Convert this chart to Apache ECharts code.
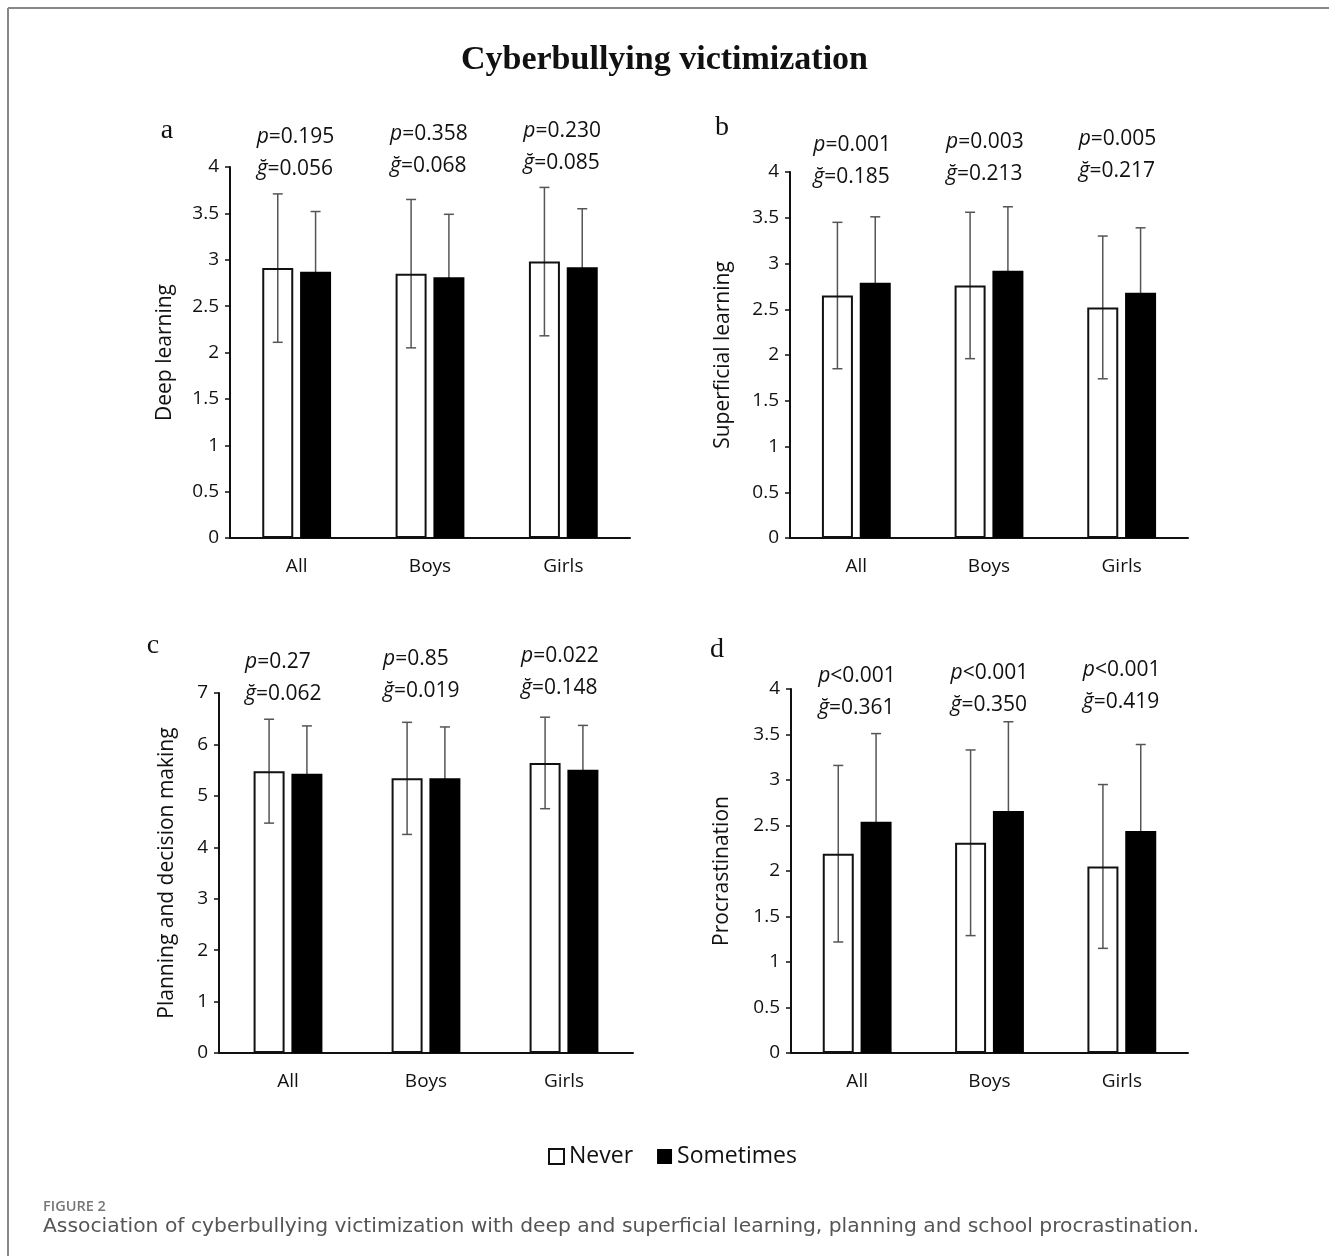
<!DOCTYPE html>
<html>
<head>
<meta charset="utf-8">
<script src="https://cdn.jsdelivr.net/npm/echarts@6/dist/echarts.min.js"></script>
<style>
  html, body { margin: 0; padding: 0; background: #fff; }
  #chart { width: 1329px; height: 1256px; }
</style>
</head>
<body>
<div id="chart"></div>
<script>
// categories
const groups = ["All", "Boys", "Girls"];

// a - deep learning
const deepNever = [2.91, 2.85, 2.98];
const deepNeverSd = [0.80, 0.80, 0.80];
const deepSometimes = [2.87, 2.81, 2.92];
const deepSometimesSd = [0.65, 0.68, 0.63];
const deepP = ["=0.195", "=0.358", "=0.230"];
const deepG = ["0.056", "0.068", "0.085"];

// b - superficial learning
const superNever = [2.65, 2.76, 2.52];
const superNeverSd = [0.80, 0.80, 0.78];
const superSometimes = [2.79, 2.92, 2.68];
const superSometimesSd = [0.72, 0.70, 0.71];
const superP = ["=0.001", "=0.003", "=0.005"];
const superG = ["0.185", "0.213", "0.217"];

// c - planning and decision making
const planNever = [5.48, 5.34, 5.64];
const planNeverSd = [1.01, 1.09, 0.89];
const planSometimes = [5.43, 5.34, 5.51];
const planSometimesSd = [0.93, 1.00, 0.86];
const planP = ["=0.27", "=0.85", "=0.022"];
const planG = ["0.062", "0.019", "0.148"];

// d - procrastination
const procNever = [2.19, 2.31, 2.05];
const procNeverSd = [0.97, 1.02, 0.90];
const procSometimes = [2.54, 2.66, 2.44];
const procSometimesSd = [0.97, 0.98, 0.95];
const procP = ["<0.001", "<0.001", "<0.001"];
const procG = ["0.361", "0.350", "0.419"];

const seriesNames = ["Never", "Sometimes"];

const FONT = "'Open Sans', sans-serif";
const SERIF = "'Liberation Serif', 'DejaVu Serif', serif";
const BAR_W = 31;
const BAR_GAP = 0.22;
const OFF = (BAR_W * (1 + BAR_GAP)) / 2;

const panels = [
  { letter: "a", name: "Deep learning", never: deepNever, neverSd: deepNeverSd, some: deepSometimes, someSd: deepSometimesSd,
    p: deepP, g: deepG, max: 4, interval: 0.5, grid: { left: 230, top: 167, width: 400, height: 371 }, nameGap: 54,
    annDy: -30, annDx: -40, letterAt: [167, 131] },
  { letter: "b", name: "Superficial learning", never: superNever, neverSd: superNeverSd, some: superSometimes, someSd: superSometimesSd,
    p: superP, g: superG, max: 4, interval: 0.5, grid: { left: 790, top: 172, width: 398, height: 366 }, nameGap: 56,
    annDy: -27, annDx: -43, letterAt: [722, 128] },
  { letter: "c", name: "Planning and decision making", never: planNever, neverSd: planNeverSd, some: planSometimes, someSd: planSometimesSd,
    p: planP, g: planG, max: 7, interval: 1, grid: { left: 219, top: 693, width: 414, height: 360 }, nameGap: 41,
    annDy: -31, annDx: -43, letterAt: [153, 646] },
  { letter: "d", name: "Procrastination", never: procNever, neverSd: procNeverSd, some: procSometimes, someSd: procSometimesSd,
    p: procP, g: procG, max: 4, interval: 0.5, grid: { left: 791, top: 689, width: 397, height: 364 }, nameGap: 58,
    annDy: -13, annDx: -39, letterAt: [717, 650] }
];

const axisLine = { show: true, lineStyle: { color: "#111", width: 2 } };

const grid = [], xAxis = [], yAxis = [], series = [], graphic = [];

panels.forEach((pn, k) => {
  grid.push(pn.grid);
  xAxis.push({
    type: "category", gridIndex: k, data: groups,
    axisLine: axisLine, axisTick: { show: false },
    axisLabel: { color: "#111", fontSize: 19, fontFamily: FONT, margin: 19 }
  });
  yAxis.push({
    type: "value", gridIndex: k, min: 0, max: pn.max, interval: pn.interval,
    name: pn.name, nameLocation: "middle", nameGap: pn.nameGap,
    nameTextStyle: { color: "#111", fontSize: 21, fontFamily: FONT },
    axisLine: axisLine, axisTick: { show: true, length: 5, lineStyle: { color: "#111", width: 1.5 } },
    axisLabel: { color: "#111", fontSize: 19, fontFamily: FONT, margin: 11 },
    splitLine: { show: false }
  });
  series.push({
    name: "Never", type: "bar", xAxisIndex: k, yAxisIndex: k, data: pn.never,
    barWidth: BAR_W, barGap: (BAR_GAP * 100) + "%", z: 3,
    itemStyle: { color: "rgba(255,255,255,0)", borderColor: "#111", borderWidth: 2 }
  });
  series.push({
    name: "Sometimes", type: "bar", xAxisIndex: k, yAxisIndex: k, data: pn.some,
    barWidth: BAR_W, barGap: (BAR_GAP * 100) + "%", z: 3,
    itemStyle: { color: "#000", borderColor: "#000", borderWidth: 0 }
  });
  const errData = [];
  groups.forEach((g, i) => {
    errData.push([i, pn.never[i], pn.neverSd[i], -1]);
    errData.push([i, pn.some[i], pn.someSd[i], 1]);
  });
  series.push({
    type: "custom", xAxisIndex: k, yAxisIndex: k, data: errData, z: 1, silent: true,
    renderItem: (params, api) => {
      const i = api.value(0), m = api.value(1), s = api.value(2), side = api.value(3);
      const hi = api.coord([i, m + s]);
      const lo = api.coord([i, m - s]);
      const x = hi[0] + side * OFF;
      const st = { stroke: "#555", lineWidth: 1.5 };
      return {
        type: "group", children: [
          { type: "line", shape: { x1: x, y1: hi[1], x2: x, y2: lo[1] }, style: st },
          { type: "line", shape: { x1: x - 5, y1: hi[1], x2: x + 5, y2: hi[1] }, style: st },
          { type: "line", shape: { x1: x - 5, y1: lo[1], x2: x + 5, y2: lo[1] }, style: st }
        ]
      };
    }
  });
  // p / g annotations above each group
  series.push({
    type: "custom", xAxisIndex: k, yAxisIndex: k, data: groups.map((g, i) => [i]), z: 5, silent: true, clip: false,
    renderItem: (params, api) => {
      const i = api.value(0);
      const c = api.coord([i, pn.max]);
      const x = c[0] + pn.annDx;
      const y = c[1] + pn.annDy - 3 * i;
      const base = { fontSize: 21, fontFamily: FONT, fill: "#111", align: "left", verticalAlign: "middle" };
      const rich = { i: { fontStyle: "italic", fontSize: 21, fontFamily: FONT } };
      return {
        type: "group", children: [
          { type: "text", x: x, y: y, style: Object.assign({ text: "{i|p}" + pn.p[i], rich: rich }, base) },
          { type: "text", x: x, y: y + 32, style: Object.assign({ text: "{i|ğ}=" + pn.g[i], rich: rich }, base) }
        ]
      };
    }
  });
  graphic.push({
    type: "text", x: pn.letterAt[0], y: pn.letterAt[1],
    style: { text: pn.letter, fontSize: 28, fontFamily: SERIF, fill: "#111", align: "center", verticalAlign: "middle" }
  });
});

// frame lines (top and left edge of the figure box)
graphic.push({ type: "line", shape: { x1: 8, y1: 8, x2: 1329, y2: 8 }, style: { stroke: "#888", lineWidth: 2 } });
graphic.push({ type: "line", shape: { x1: 8, y1: 8, x2: 8, y2: 1256 }, style: { stroke: "#888", lineWidth: 2 } });

const chart = echarts.init(document.getElementById("chart"), null, { renderer: "canvas" });

chart.setOption({
  animation: false,
  backgroundColor: "#fff",
  title: [
    { text: "Cyberbullying victimization", left: "center", top: 38,
      textStyle: { fontFamily: SERIF, fontWeight: "bold", fontSize: 34, color: "#111" } },
    { text: "FIGURE 2", left: 38, top: 1194,
      textStyle: { fontFamily: FONT, fontWeight: 600, fontSize: 14.5, color: "#777" } },
    { text: "Association of cyberbullying victimization with deep and superficial learning, planning and school procrastination.",
      left: 38, top: 1212, textStyle: { fontFamily: "'DejaVu Sans', sans-serif", fontWeight: "normal", fontSize: 20.3, color: "#555" } }
  ],
  legend: {
    data: seriesNames, left: 543, top: 1140,
    itemWidth: 15, itemHeight: 15, itemGap: 24, icon: "rect",
    textStyle: { fontFamily: FONT, fontSize: 23, color: "#111" }
  },
  grid: grid,
  xAxis: xAxis,
  yAxis: yAxis,
  series: series,
  graphic: graphic
});
</script>
</body>
</html>
